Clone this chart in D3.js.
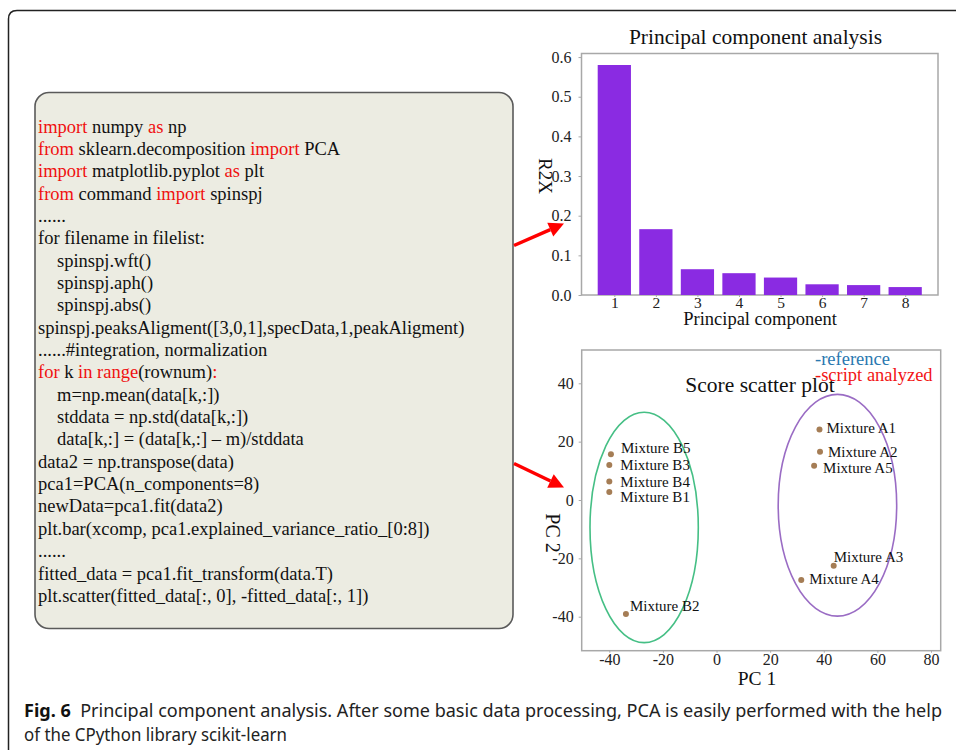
<!DOCTYPE html>
<html><head><meta charset="utf-8">
<script src="https://cdn.jsdelivr.net/npm/d3@7"></script>
<style>
html,body{margin:0;padding:0;background:#fff;}
svg{display:block;}
.serif, .serif text{font-family:"Liberation Serif","Times New Roman",serif;}
</style></head>
<body>
<svg id="chart" width="956" height="750"></svg>
<script>
// ---------- data ----------
const components = [1, 2, 3, 4, 5, 6, 7, 8];
const varianceRatio = [0.580, 0.166, 0.065, 0.055, 0.044, 0.027, 0.025, 0.020];
const barYTicks = [0.0, 0.1, 0.2, 0.3, 0.4, 0.5, 0.6];

const sampleNames = ["Mixture B5", "Mixture B3", "Mixture B4", "Mixture B1", "Mixture B2",
                     "Mixture A1", "Mixture A2", "Mixture A5", "Mixture A3", "Mixture A4"];
const pc1 = [-39.4, -40.0, -40.0, -40.0, -33.8, 38.4, 38.6, 36.4, 43.7, 31.6];
const pc2 = [15.7, 12.0, 6.3, 2.7, -39.1, 24.2, 16.5, 11.7, -22.5, -27.4];
const scatterXTicks = [-40, -20, 0, 20, 40, 60, 80];
const scatterYTicks = [-40, -20, 0, 20, 40];
// group ellipses: centre (PC1, PC2) and half-axes in data units
const groupNames = ["B", "A"];
const ellipseCx = [-27.0, 45.1];
const ellipseCy = [-9.4, -1.8];
const ellipseRx = [20.2, 22.1];
const ellipseRy = [39.5, 38.0];

const codeLines = [
  [["import", 1], [" numpy ", 0], ["as", 1], [" np", 0]],
  [["from", 1], [" sklearn.decomposition ", 0], ["import", 1], [" PCA", 0]],
  [["import", 1], [" matplotlib.pyplot ", 0], ["as", 1], [" plt", 0]],
  [["from", 1], [" command ", 0], ["import", 1], [" spinspj", 0]],
  [["......", 0]],
  [["for filename in filelist:", 0]],
  [["\tspinspj.wft()", 0]],
  [["\tspinspj.aph()", 0]],
  [["\tspinspj.abs()", 0]],
  [["spinspj.peaksAligment([3,0,1],specData,1,peakAligment)", 0]],
  [["......#integration, normalization", 0]],
  [["for", 1], [" k ", 0], ["in range", 1], ["(rownum)", 0], [":", 1]],
  [["\tm=np.mean(data[k,:])", 0]],
  [["\tstddata = np.std(data[k,:])", 0]],
  [["\tdata[k,:] = (data[k,:] \u2013 m)/stddata", 0]],
  [["data2 = np.transpose(data)", 0]],
  [["pca1=PCA(n_components=8)", 0]],
  [["newData=pca1.fit(data2)", 0]],
  [["plt.bar(xcomp, pca1.explained_variance_ratio_[0:8])", 0]],
  [["......", 0]],
  [["fitted_data = pca1.fit_transform(data.T)", 0]],
  [["plt.scatter(fitted_data[:, 0], -fitted_data[:, 1])", 0]]
];

// ---------- layout / style ----------
const SERIF = '"Liberation Serif","Times New Roman",serif';
const labelOffset = {
  "Mixture B5": [10, -6], "Mixture B3": [11, 0], "Mixture B4": [11, 0], "Mixture B1": [11, 5],
  "Mixture B2": [4, -8], "Mixture A1": [7, -1], "Mixture A2": [8, 0], "Mixture A5": [9, 2],
  "Mixture A3": [0, -9], "Mixture A4": [8, -1]
};
const ellipseColor = {"B": "#45bf85", "A": "#9a6cc4"};

const svg = d3.select("#chart");

// outer frame
svg.append("path")
  .attr("d", "M8.5,750 V19 Q8.5,10.5 17,10.5 H956")
  .attr("fill", "none").attr("stroke", "#222").attr("stroke-width", 1.5);

// ---------- code box ----------
svg.append("rect")
  .attr("x", 35).attr("y", 92.5).attr("width", 478).attr("height", 536).attr("rx", 14)
  .attr("fill", "#ecece2").attr("stroke", "#5a5a5a").attr("stroke-width", 1.6);

const code = svg.append("g").attr("class", "serif").attr("font-size", 18.5);
codeLines.forEach((segs, i) => {
  const indent = segs[0][0].startsWith("\t");
  const t = code.append("text")
    .attr("x", indent ? 57 : 38)
    .attr("y", 132.5 + i * 22.35)
    .style("white-space", "pre");
  segs.forEach(([s, red]) => {
    t.append("tspan").text(s.replace("\t", "")).attr("fill", red ? "#f01010" : "#111");
  });
});

// ---------- arrows ----------
function arrow(x1, y1, x2, y2) {
  const ang = Math.atan2(y2 - y1, x2 - x1);
  const L = 15, W = 7.5;
  const bx = x2 - L * Math.cos(ang), by = y2 - L * Math.sin(ang);
  svg.append("line").attr("x1", x1).attr("y1", y1).attr("x2", bx).attr("y2", by)
    .attr("stroke", "#f00").attr("stroke-width", 3.5);
  const px = -Math.sin(ang) * W, py = Math.cos(ang) * W;
  svg.append("path")
    .attr("d", `M${x2},${y2} L${bx + px},${by + py} L${bx - px},${by - py} Z`)
    .attr("fill", "#f00");
}
arrow(514, 245.5, 564, 223.5);
arrow(514, 463.5, 564, 487.5);

function styleAxis(a, size) {
  a.attr("font-family", null);
  a.select(".domain").remove();
  a.selectAll(".tick line").attr("stroke", "#a8a8a8");
  a.selectAll(".tick text").style("font-family", SERIF).style("font-size", size + "px").attr("fill", "#222");
}
const plain = d => String(d);

// ---------- bar chart ----------
const bx = d3.scaleLinear().domain([0.21, 8.79]).range([581.5, 938]);
const by = d3.scaleLinear().domain([0, 0.609]).range([295, 53.5]);
const barW = (bx(1.8) - bx(1));

const bar = svg.append("g").attr("class", "serif");
bar.append("rect").attr("x", 581.5).attr("y", 53.5).attr("width", 938 - 581.5).attr("height", 295 - 53.5)
  .attr("fill", "#fff").attr("stroke", "#a8a8a8").attr("stroke-width", 1.5);
bar.selectAll("rect.bar").data(components).join("rect").attr("class", "bar")
  .attr("x", d => bx(d) - barW / 2).attr("width", barW)
  .attr("y", (d, i) => by(varianceRatio[i]))
  .attr("height", (d, i) => by(0) - by(varianceRatio[i]))
  .attr("fill", "#8a2be2");

const bxAxis = bar.append("g").attr("transform", "translate(0,295)")
  .call(d3.axisBottom(bx).tickValues(components).tickSize(2).tickPadding(0).tickFormat(plain));
const byAxis = bar.append("g").attr("transform", "translate(581.5,0)")
  .call(d3.axisLeft(by).tickValues(barYTicks).tickSize(3).tickPadding(7).tickFormat(d3.format(".1f")));
styleAxis(bxAxis, 15.5);
styleAxis(byAxis, 16);
bar.append("text").attr("x", 755.5).attr("y", 44).attr("text-anchor", "middle")
  .attr("font-size", 21.5).attr("fill", "#111").text("Principal component analysis");
bar.append("text").attr("x", 760).attr("y", 325).attr("text-anchor", "middle")
  .attr("font-size", 18.5).attr("fill", "#111").text("Principal component");
bar.append("text").attr("transform", "translate(539,176) rotate(90)").attr("text-anchor", "middle")
  .attr("font-size", 19).attr("fill", "#111").text("R2X");

// ---------- scatter ----------
const sx = d3.scaleLinear().domain([-40, 80]).range([609.3, 931]);
const sy = d3.scaleLinear().domain([-40, 40]).range([616.7, 383.3]);
const sc = svg.append("g").attr("class", "serif");
sc.append("rect").attr("x", 581.7).attr("y", 350).attr("width", 940.7 - 581.7).attr("height", 650.7 - 350)
  .attr("fill", "#fff").attr("stroke", "#a8a8a8").attr("stroke-width", 1.5);

const sxAxis = sc.append("g").attr("transform", "translate(0,650.7)")
  .call(d3.axisBottom(sx).tickValues(scatterXTicks).tickSize(2).tickPadding(1).tickFormat(plain));
const syAxis = sc.append("g").attr("transform", "translate(581.7,0)")
  .call(d3.axisLeft(sy).tickValues(scatterYTicks).tickSize(3).tickPadding(5).tickFormat(plain));
styleAxis(sxAxis, 16);
styleAxis(syAxis, 16);

sc.selectAll("ellipse").data(groupNames).join("ellipse")
  .attr("cx", (d, i) => sx(ellipseCx[i])).attr("cy", (d, i) => sy(ellipseCy[i]))
  .attr("rx", (d, i) => sx(ellipseRx[i]) - sx(0)).attr("ry", (d, i) => sy(0) - sy(ellipseRy[i]))
  .attr("fill", "none").attr("stroke", d => ellipseColor[d]).attr("stroke-width", 1.6);

sc.selectAll("circle.pt").data(sampleNames).join("circle").attr("class", "pt")
  .attr("cx", (d, i) => sx(pc1[i])).attr("cy", (d, i) => sy(pc2[i])).attr("r", 3)
  .attr("fill", "#a57d55");
sc.selectAll("text.lbl").data(sampleNames).join("text").attr("class", "lbl")
  .attr("x", (d, i) => sx(pc1[i]) + labelOffset[d][0])
  .attr("y", (d, i) => sy(pc2[i]) + labelOffset[d][1])
  .attr("dy", "0.33em").attr("font-size", 15).attr("fill", "#111").text(d => d);

sc.append("text").attr("x", 760).attr("y", 392).attr("text-anchor", "middle")
  .attr("font-size", 21.5).attr("fill", "#111").text("Score scatter plot");
sc.append("text").attr("x", 815).attr("y", 365).attr("font-size", 18.5).attr("fill", "#2a78b0").text("-reference");
sc.append("text").attr("x", 815).attr("y", 381).attr("font-size", 18.5).attr("fill", "#f21414").text("-script analyzed");
sc.append("text").attr("x", 757).attr("y", 685).attr("text-anchor", "middle")
  .attr("font-size", 19.5).attr("fill", "#111").text("PC 1");
sc.append("text").attr("transform", "translate(546,533) rotate(90)").attr("text-anchor", "middle")
  .attr("font-size", 20).attr("fill", "#111").text("PC 2");

// ---------- caption ----------
const cap = svg.append("g").attr("font-family", '"Noto Sans","Open Sans",sans-serif').attr("font-size", 18).attr("fill", "#222");
const c1 = cap.append("text").attr("x", 24).attr("y", 717)
  .attr("textLength", 918).attr("lengthAdjust", "spacingAndGlyphs").style("white-space", "pre");
c1.append("tspan").attr("font-weight", "bold").attr("fill", "#111").text("Fig. 6");
c1.append("tspan").text("  Principal component analysis. After some basic data processing, PCA is easily performed with the help");
cap.append("text").attr("x", 24).attr("y", 741)
  .attr("textLength", 263).attr("lengthAdjust", "spacingAndGlyphs")
  .text("of the CPython library scikit-learn");
</script>
</body></html>
